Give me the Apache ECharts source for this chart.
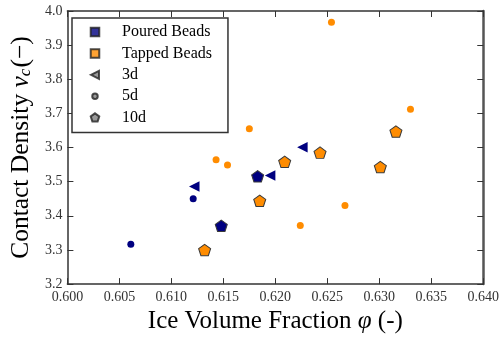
<!DOCTYPE html>
<html>
<head>
<meta charset="utf-8">
<script src="https://cdn.jsdelivr.net/npm/echarts@6/dist/echarts.min.js"></script>
<style>html,body{margin:0;padding:0;background:#fff}#c{width:502px;height:339px}</style>
</head>
<body>
<div id="c"></div>
<script>
// Data: [ice volume fraction, contact density]
const pouredBeads3d = [[0.6122, 3.486], [0.6195, 3.518], [0.6226, 3.601]];
const pouredBeads5d = [[0.6061, 3.317], [0.6121, 3.450]];
const pouredBeads10d = [[0.6148, 3.371], [0.6183, 3.516]];
const tappedBeads5d = [[0.6143, 3.564], [0.6154, 3.549], [0.6175, 3.655], [0.6224, 3.372], [0.6254, 3.967], [0.6267, 3.430], [0.6330, 3.712]];
const tappedBeads10d = [[0.6132, 3.300], [0.6185, 3.444], [0.6209, 3.558], [0.6243, 3.585], [0.6301, 3.543], [0.6316, 3.647]];
const legendNames = ['Poured Beads', 'Tapped Beads', '3d', '5d', '10d'];
const xTicks = { min: 0.600, max: 0.640, interval: 0.005 };
const yTicks = { min: 3.2, max: 4.0, interval: 0.1 };

const NAVY = '#000080', ORANGE = '#ff8c00', GRAY = '#808080', EDGE = '#3a3a3a';
const FONT = 'Liberation Serif';
const TRI = 'path://M0,50 L100,0 L100,100 Z';
const PENT = 'path://M50,0 L97.55,34.55 L79.39,90.45 L20.61,90.45 L2.45,34.55 Z';
// legend icons padded to a 100x100 box so they keep small sizes
const L_SQ = 'path://M0,0 M100,100 M19.5,19.5 L80.5,19.5 L80.5,80.5 L19.5,80.5 Z';
const L_TRI = 'path://M0,0 M100,100 M21.5,50 L78.5,21.5 L78.5,78.5 Z';
const L_CIR = 'path://M0,0 M100,100 M50,30.5 A19.5,19.5 0 1 1 49.9,30.5 Z';
const L_PENT = 'path://M0,0 M100,100 M50,19.5 L80.4,41.6 L68.8,77.4 L31.2,77.4 L19.6,41.6 Z';

const chart = echarts.init(document.getElementById('c'), null, { renderer: 'canvas' });
const axisLine = { show: true, lineStyle: { color: '#333', width: 1.5 } };
const tick = { show: true, inside: true, length: 6, lineStyle: { color: '#333', width: 1 } };
const lbl = { fontFamily: FONT, fontSize: 14, color: '#333' };

function scatter(name, data, color, symbol, size, border) {
  return {
    type: 'scatter', name: name, data: data, symbol: symbol, symbolSize: size,
    itemStyle: { color: color, borderColor: border ? EDGE : color, borderWidth: border ? 1 : 0, opacity: 1 },
    emphasis: { disabled: true }, z: 3
  };
}
function dummy(name, color, icon) {
  return { type: 'scatter', name: name, data: [], symbol: icon,
    itemStyle: { color: color, borderColor: '#222', borderWidth: 0.7 } };
}

chart.setOption({
  animation: false,
  backgroundColor: '#fff',
  grid: { left: 64, right: 18, top: 11, bottom: 48 },
  xAxis: [{
    type: 'value', min: xTicks.min, max: xTicks.max, interval: xTicks.interval,
    axisLine: axisLine, axisTick: tick, splitLine: { show: false },
    axisLabel: Object.assign({ margin: 6, formatter: v => v.toFixed(3) }, lbl),
    name: '{a|Ice Volume Fraction }{i|φ}{a| (-)}', nameLocation: 'middle', nameGap: 18,
    nameTextStyle: { rich: {
      a: { fontFamily: FONT, fontSize: 25, color: '#000' },
      i: { fontFamily: FONT, fontSize: 25, fontStyle: 'italic', color: '#000' } } }
  }, {
    type: 'value', position: 'top', min: xTicks.min, max: xTicks.max, interval: xTicks.interval,
    axisLine: axisLine, axisTick: tick, axisLabel: { show: false }, splitLine: { show: false }
  }],
  yAxis: [{
    type: 'value', min: yTicks.min, max: yTicks.max, interval: yTicks.interval,
    axisLine: axisLine, axisTick: tick, splitLine: { show: false },
    axisLabel: Object.assign({ margin: 5, formatter: v => v.toFixed(1) }, lbl),
    name: '{a|Contact Density }{i|ν}{s|c}{a|(−)}', nameLocation: 'middle', nameGap: 31,
    nameTextStyle: { rich: {
      a: { fontFamily: FONT, fontSize: 25.5, color: '#000' },
      i: { fontFamily: FONT, fontSize: 25.5, fontStyle: 'italic', color: '#000' },
      s: { fontFamily: FONT, fontSize: 17, fontStyle: 'italic', color: '#000', padding: [9, 1, 0, 0] } } }
  }, {
    type: 'value', position: 'right', min: yTicks.min, max: yTicks.max, interval: yTicks.interval,
    axisLine: { show: true, lineStyle: { color: '#555', width: 2.5 } }, axisTick: tick,
    axisLabel: { show: false }, splitLine: { show: false }
  }],
  legend: {
    data: [
      { name: legendNames[0], icon: L_SQ },
      { name: legendNames[1], icon: L_SQ },
      { name: legendNames[2], icon: L_TRI },
      { name: legendNames[3], icon: L_CIR },
      { name: legendNames[4], icon: L_PENT }
    ],
    orient: 'vertical', left: 72, top: 18,
    padding: [6, 16, 7, 15], itemGap: 5.4, itemWidth: 14, itemHeight: 14,
    borderColor: '#333', borderWidth: 1.5, borderRadius: 0, backgroundColor: '#fff',
    selectedMode: false,
    textStyle: { fontFamily: FONT, fontSize: 16, color: '#000', lineHeight: 14, padding: [0, 0, 0, 15] }
  },
  series: [
    dummy(legendNames[0], NAVY, L_SQ),
    dummy(legendNames[1], ORANGE, L_SQ),
    dummy(legendNames[2], GRAY, L_TRI),
    dummy(legendNames[3], GRAY, L_CIR),
    dummy(legendNames[4], GRAY, L_PENT),
    scatter('p5', pouredBeads5d, NAVY, 'circle', 7, false),
    scatter('t5', tappedBeads5d, ORANGE, 'circle', 7, false),
    scatter('p10', pouredBeads10d, NAVY, PENT, [12, 11.4], true),
    scatter('t10', tappedBeads10d, ORANGE, PENT, [12, 11.4], true),
    scatter('p3', pouredBeads3d, NAVY, TRI, [10.5, 10.5], false)
  ]
});
</script>
</body>
</html>
